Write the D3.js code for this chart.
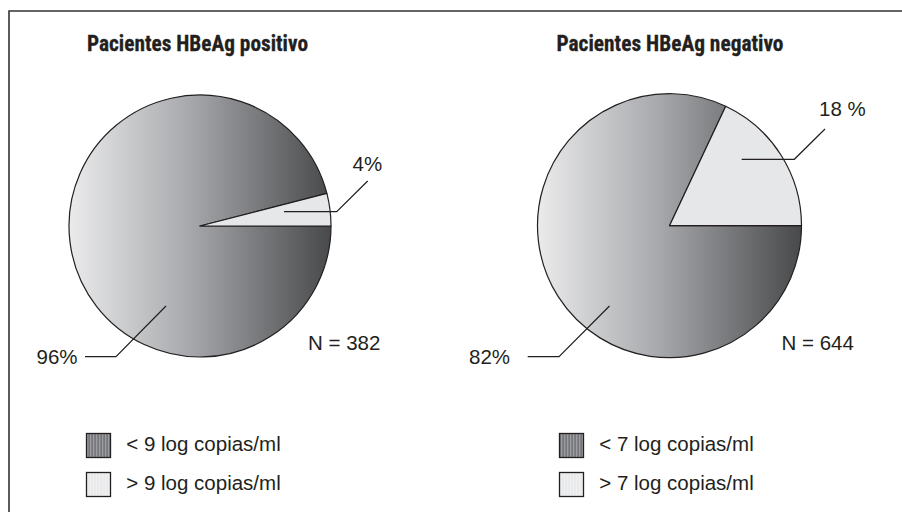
<!DOCTYPE html>
<html><head><meta charset="utf-8">
<script src="https://cdn.jsdelivr.net/npm/d3@7"></script>
<style>
html,body{margin:0;padding:0;background:#fff;}
svg{display:block;}
</style>
</head><body>
<svg id="chart" width="902" height="512"></svg>
<script>
// ---- data ----
const panelTitles = ["Pacientes HBeAg positivo", "Pacientes HBeAg negativo"];
const categoriesPos = ["< 9 log copias/ml", "> 9 log copias/ml"];
const categoriesNeg = ["< 7 log copias/ml", "> 7 log copias/ml"];
const valuesPos = [96, 4];
const valuesNeg = [82, 18];
const labelsPos = ["96%", "4%"];
const labelsNeg = ["82%", "18 %"];
const nLabels = ["N = 382", "N = 644"];

// ---- layout ----
const svg = d3.select("#chart");
const ink = "#231f20";
const fontTxt = "'Liberation Sans', Arial, Helvetica, sans-serif";
const fontTitle = "'Liberation Sans Narrow', 'Roboto Condensed', 'Liberation Sans', sans-serif";

// frame
svg.append("path").attr("d", "M9,512 L9,11 L902,11")
  .attr("fill", "none").attr("stroke", "#333").attr("stroke-width", 1.6);

const defs = svg.append("defs");
const stripe = defs.append("pattern").attr("id", "stripeDark")
  .attr("patternUnits", "userSpaceOnUse").attr("width", 3).attr("height", 10);
stripe.append("rect").attr("width", 3).attr("height", 10).attr("fill", "#76777a");
stripe.append("rect").attr("width", 1.3).attr("height", 10).attr("fill", "#9c9da0");
const stripeL = defs.append("pattern").attr("id", "stripeLight")
  .attr("patternUnits", "userSpaceOnUse").attr("width", 3).attr("height", 10);
stripeL.append("rect").attr("width", 3).attr("height", 10).attr("fill", "#e8e9ea");
stripeL.append("rect").attr("width", 1.3).attr("height", 10).attr("fill", "#f0f0f1");

const panels = [
  { title: panelTitles[0], titleX: 87, titleW: 221, cx: 200, cy: 226, r: 131,
    values: valuesPos, labels: labelsPos, cats: categoriesPos, n: nLabels[0],
    nPos: [308, 350],
    leaders: [
      { pts: [[-34, 80], [-84, 130.7], [-115, 130.7]], tx: 36.5, ty: 364, anchor: "start" },
      { pts: [[84, -14.3], [136.7, -14.3], [167.7, -45]], tx: 352.5, ty: 171, anchor: "start" }
    ],
    legX: 86.5 },
  { title: panelTitles[1], titleX: 556.5, titleW: 227, cx: 669.5, cy: 225.7, r: 132,
    values: valuesNeg, labels: labelsNeg, cats: categoriesNeg, n: nLabels[1],
    nPos: [781.5, 350],
    leaders: [
      { pts: [[-60, 80.3], [-110.5, 131], [-141.8, 131]], tx: 469, ty: 364, anchor: "start" },
      { pts: [[72.2, -66.4], [124.8, -66.4], [155.5, -96.7]], tx: 819, ty: 116, anchor: "start" }
    ],
    legX: 559.5 }
];

const pie = d3.pie().sort(null).startAngle(Math.PI / 2).endAngle(Math.PI / 2 + 2 * Math.PI);

panels.forEach((p, i) => {
  const grad = defs.append("linearGradient").attr("id", "g" + i)
    .attr("gradientUnits", "userSpaceOnUse")
    .attr("x1", -p.r).attr("x2", p.r).attr("y1", 0).attr("y2", 0);
  grad.append("stop").attr("offset", 0).attr("stop-color", "#ebebec");
  grad.append("stop").attr("offset", 0.45).attr("stop-color", "#a8aaad");
  grad.append("stop").attr("offset", 1).attr("stop-color", "#48494b");

  const fills = ["url(#g" + i + ")", "#e6e7e8"];
  const legFills = ["url(#stripeDark)", "url(#stripeLight)"];

  // title
  svg.append("text").attr("x", p.titleX).attr("y", 51)
    .attr("font-family", fontTitle).attr("font-weight", "bold").attr("font-size", 22.5)
    .attr("textLength", p.titleW).attr("lengthAdjust", "spacingAndGlyphs")
    .attr("stroke", ink).attr("stroke-width", 0.3)
    .attr("fill", ink).text(p.title);

  const arc = d3.arc().innerRadius(0).outerRadius(p.r);
  const g = svg.append("g").attr("transform", `translate(${p.cx},${p.cy})`);
  g.selectAll("path.slice").data(pie(p.values)).join("path")
    .attr("class", "slice")
    .attr("d", arc)
    .attr("fill", (d, j) => fills[j])
    .attr("stroke", ink).attr("stroke-width", 1.2).attr("stroke-linejoin", "round");

  // leaders + labels
  p.leaders.forEach((L, j) => {
    g.append("polyline").attr("points", L.pts.map(q => q.join(",")).join(" "))
      .attr("fill", "none").attr("stroke", ink).attr("stroke-width", 1.2);
    svg.append("text").attr("x", L.tx).attr("y", L.ty).attr("text-anchor", L.anchor)
      .attr("font-family", fontTxt).attr("font-size", 20.5).attr("fill", ink)
      .text(p.labels[j]);
  });

  svg.append("text").attr("x", p.nPos[0]).attr("y", p.nPos[1])
    .attr("font-family", fontTxt).attr("font-size", 20.5).attr("fill", ink).text(p.n);

  // legend
  const rows = [433.5, 472.5];
  p.cats.forEach((c, j) => {
    svg.append("rect").attr("x", p.legX).attr("y", rows[j]).attr("width", 24).attr("height", 24)
      .attr("fill", legFills[j]).attr("stroke", ink).attr("stroke-width", 1.3);
    svg.append("text").attr("x", p.legX + 39.8).attr("y", rows[j] + 17)
      .attr("font-family", fontTxt).attr("font-size", 20.5).attr("fill", ink).text(c);
  });
});
</script>
</body></html>
